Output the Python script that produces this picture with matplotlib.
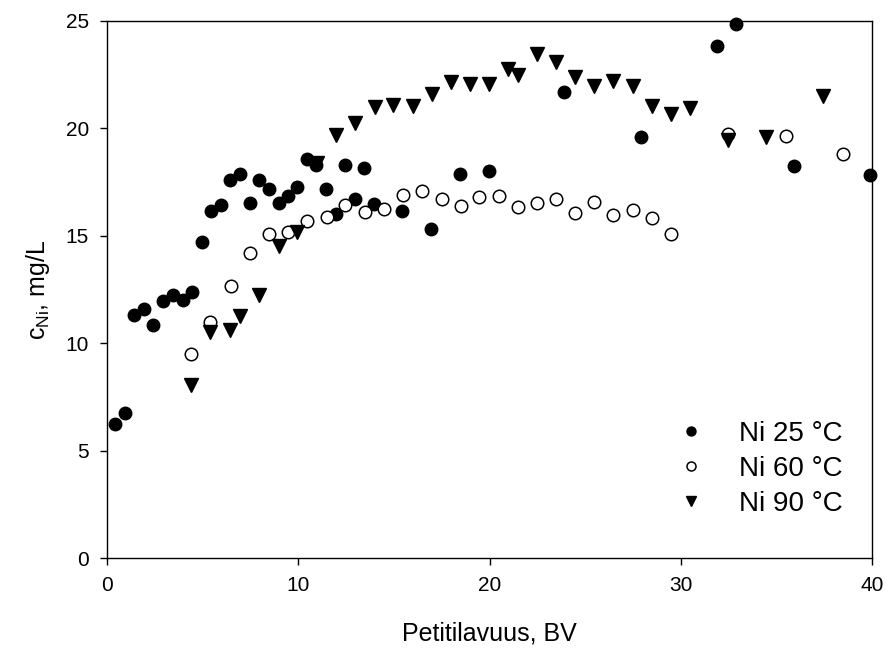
import numpy as np
import matplotlib.pyplot as plt

plt.rcParams['font.family'] = ['Liberation Sans', 'DejaVu Sans']
plt.rcParams['mathtext.fontset'] = 'custom'
plt.rcParams['mathtext.rm'] = 'Liberation Sans'

# Ni 25 °C
bv_25 = [0.42, 0.94, 1.43, 1.95, 2.42, 2.94, 3.47, 3.95, 4.46, 4.95, 5.44, 5.96, 6.43,
         6.95, 7.47, 7.96, 8.48, 8.97, 9.45, 9.93, 10.44, 10.95, 11.43, 11.97, 12.44,
         12.96, 13.45, 13.97, 15.44, 16.94, 18.45, 19.97, 23.9, 27.9, 31.9, 32.9,
         35.9, 39.92]
c_25 = [6.23, 6.74, 11.3, 11.57, 10.84, 11.95, 12.23, 12.0, 12.36, 14.71, 16.14, 16.42,
        17.58, 17.85, 16.53, 17.58, 17.15, 16.54, 16.87, 17.27, 18.56, 18.28, 17.15,
        16.0, 18.28, 16.72, 18.13, 16.46, 16.15, 15.29, 17.85, 18.01, 21.69, 19.57,
        23.81, 24.84, 18.25, 17.83]

# Ni 60 °C
bv_60 = [4.37, 5.38, 6.48, 7.47, 8.48, 9.48, 10.47, 11.48, 12.46, 13.47, 14.49, 15.49,
         16.48, 17.5, 18.49, 19.47, 20.49, 21.47, 22.46, 23.47, 24.48, 25.47, 26.47,
         27.48, 28.47, 29.48, 32.48, 35.48, 38.49]
c_60 = [9.49, 10.99, 12.65, 14.2, 15.06, 15.15, 15.67, 15.88, 16.41, 16.12, 16.26, 16.88,
        17.09, 16.73, 16.39, 16.78, 16.84, 16.34, 16.5, 16.73, 16.06, 16.57, 15.95,
        16.19, 15.8, 15.06, 19.75, 19.64, 18.82]

# Ni 90 °C
bv_90 = [4.39, 5.38, 6.43, 6.95, 7.96, 8.99, 9.93, 10.96, 11.97, 12.97, 14.0, 14.97,
         15.98, 16.97, 18.0, 19.0, 19.98, 20.98, 21.5, 22.46, 23.47, 24.48, 25.47,
         26.47, 27.48, 28.47, 29.48, 30.48, 32.48, 34.45, 37.45]
c_90 = [8.05, 10.5, 10.6, 11.26, 12.23, 14.51, 15.18, 18.4, 19.67, 20.26, 21.0, 21.07,
        21.02, 21.61, 22.16, 22.08, 22.05, 22.78, 22.47, 23.47, 23.09, 22.39, 21.97,
        22.19, 21.97, 21.02, 20.65, 20.92, 19.44, 19.6, 21.49]

fig = plt.figure(figsize=(8.88, 6.5), dpi=100)
ax = fig.add_axes([0.1205, 0.1415, 0.8615, 0.8265])

ax.plot(bv_25, c_25, 'o', color='black', markersize=9, label='Ni 25 °C', clip_on=False, zorder=3)
ax.plot(bv_60, c_60, 'o', markerfacecolor='white', markeredgecolor='black',
        markeredgewidth=1.1, markersize=9, label='Ni 60 °C', zorder=3)
ax.plot(bv_90, c_90, 'v', color='black', markersize=9.5, label='Ni 90 °C', zorder=3)

ax.set_xlim(0, 40)
ax.set_ylim(0, 25)
ax.set_xticks(np.arange(0, 41, 10))
ax.set_yticks(np.arange(0, 26, 5))
ax.tick_params(direction='out', length=5, width=1, labelsize=15, pad=8,
               top=False, right=False)
for s in ax.spines.values():
    s.set_linewidth(1)

ax.set_xlabel('Petitilavuus, BV', fontsize=18, labelpad=19)
ax.set_ylabel(r'c$_{\mathrm{Ni}}$, mg/L', fontsize=18, labelpad=10)

ax.legend(loc='lower right', bbox_to_anchor=(0.995, 0.03), frameon=False,
          fontsize=20, markerscale=0.72, handletextpad=0.75, labelspacing=0.32)

fig.savefig('out.png', dpi=100)
